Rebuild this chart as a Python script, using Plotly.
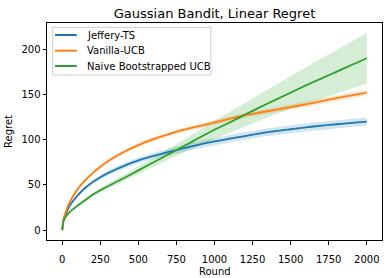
import plotly.graph_objects as go

rounds = [0, 10, 25, 50, 100, 150, 200, 250, 300, 400, 500, 600, 700, 800, 900,
          1000, 1100, 1200, 1300, 1400, 1500, 1600, 1700, 1800, 1900, 2000]

jeffery_ts = [0, 12, 18, 27, 38, 46.5, 53, 58.5, 63, 70.5, 77, 82, 86.5, 90.5, 94.5,
              98, 101, 104, 107, 109.5, 111.5, 113.5, 115.5, 117, 118.5, 120]
jeffery_err = [0, 0.5, 0.8, 1, 1.5, 2, 2.3, 2.5, 2.8, 3, 3.2, 3.4, 3.6, 3.8, 3.9,
               4, 4.1, 4.2, 4.2, 4.3, 4.3, 4.4, 4.4, 4.5, 4.5, 4.5]

vanilla_ucb = [0, 13, 21, 31, 45, 55, 63, 70, 76, 86, 94, 100.5, 106, 111, 115,
               119, 123, 127, 130, 133, 136, 139, 142.5, 146, 149, 152]
vanilla_err = [0, 0.5, 0.8, 1, 1.3, 1.5, 1.7, 1.8, 2, 2.1, 2.2, 2.3, 2.4, 2.5, 2.6,
               2.6, 2.7, 2.7, 2.8, 2.8, 2.9, 2.9, 3, 3, 3, 3]

naive_boot = [0, 11, 15, 20, 27, 33, 39, 44, 48.5, 57, 66, 75, 84, 93, 102,
              111, 119, 127.5, 136, 144, 152, 160, 167.5, 175, 182.5, 190]
naive_err = [0, 0.5, 1, 1, 1.5, 2, 2, 2.5, 3, 3.5, 4, 5, 6, 7, 8.5,
             10, 11.5, 13, 14.5, 16, 18, 20, 22, 24, 26, 28]

series = [
    ("Jeffery-TS", jeffery_ts, jeffery_err, "#1f77b4", "rgba(31,119,180,0.2)"),
    ("Vanilla-UCB", vanilla_ucb, vanilla_err, "#ff7f0e", "rgba(255,127,14,0.2)"),
    ("Naive Bootstrapped UCB", naive_boot, naive_err, "#2ca02c", "rgba(44,160,44,0.2)"),
]

fig = go.Figure()
for name, vals, err, color, fillc in series:
    upper = [v + e for v, e in zip(vals, err)]
    lower = [v - e for v, e in zip(vals, err)]
    fig.add_trace(go.Scatter(
        x=rounds + rounds[::-1], y=upper + lower[::-1],
        fill="toself", fillcolor=fillc, line=dict(width=0),
        mode="lines", showlegend=False, hoverinfo="skip"))
for name, vals, err, color, fillc in series:
    fig.add_trace(go.Scatter(
        x=rounds, y=vals, mode="lines", name=name, showlegend=False,
        line=dict(color=color, width=1.8, shape="spline", smoothing=0.6)))

# Matplotlib-style compact legend (paper coordinates of the plot area)
fig.add_shape(type="rect", xref="paper", yref="paper", x0=0.017, x1=0.489, y0=0.760, y1=0.980,
              line=dict(color="#cccccc", width=1), fillcolor="rgba(255,255,255,0.8)",
              layer="above")
row_y = [0.9447, 0.8724, 0.8018]
for (name, vals, err, color, fillc), yy in zip(series, row_y):
    fig.add_shape(type="line", xref="paper", yref="paper", x0=0.024, x1=0.089, y0=yy, y1=yy,
                  line=dict(color=color, width=2), layer="above")
    fig.add_annotation(xref="paper", yref="paper", x=0.1125, y=yy, text=name,
                       showarrow=False, xanchor="left", yanchor="middle",
                       font=dict(family="DejaVu Sans", size=10, color="black"))

# x-axis title placed like matplotlib's
fig.add_annotation(xref="paper", yref="paper", x=0.5, y=-0.145, text="Round",
                   showarrow=False, xanchor="center", yanchor="middle",
                   font=dict(family="DejaVu Sans", size=10, color="black"))

axis_common = dict(
    showline=True, linecolor="black", linewidth=1, mirror=True,
    ticks="outside", ticklen=3.5, tickcolor="black", tickwidth=1,
    showgrid=False, zeroline=False, automargin=False,
    tickfont=dict(family="DejaVu Sans", size=10, color="black"),
)

fig.update_layout(
    width=392, height=278,
    margin=dict(l=47, r=10, t=23, b=38),
    paper_bgcolor="white", plot_bgcolor="white",
    showlegend=False,
    font=dict(family="DejaVu Sans", size=10, color="black"),
    title=dict(text="Gaussian Bandit, Linear Regret", xref="paper", x=0.5, xanchor="center",
               y=0.953, yanchor="middle",
               font=dict(family="DejaVu Sans", size=13, color="black")),
    xaxis=dict(range=[-100, 2100], tickvals=[0, 250, 500, 750, 1000, 1250, 1500, 1750, 2000],
               ticklabelstandoff=6,
               **axis_common),
    yaxis=dict(range=[-11, 229], tickvals=[0, 50, 100, 150, 200],
               title=dict(text="Regret", standoff=6,
                          font=dict(family="DejaVu Sans", size=10, color="black")),
               **axis_common),
)

fig.write_html("out.html", config={"displayModeBar": False},
               post_script="document.body.style.margin='0px';document.body.style.overflow='hidden';")
